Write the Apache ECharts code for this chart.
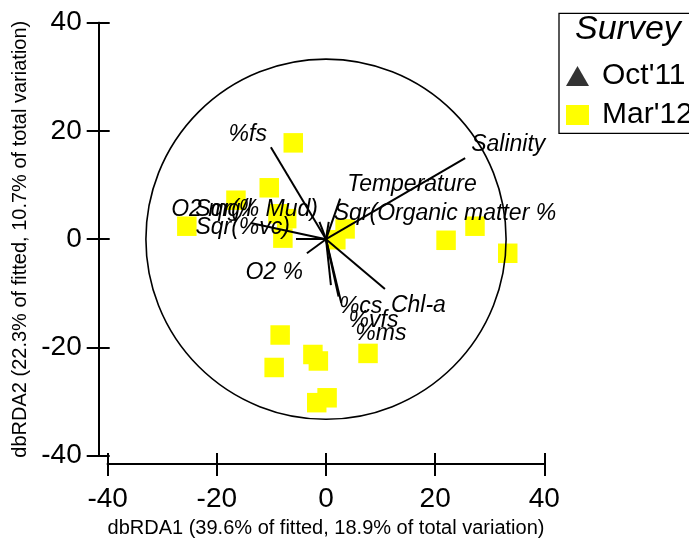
<!DOCTYPE html>
<html>
<head>
<meta charset="utf-8">
<script src="https://cdn.jsdelivr.net/npm/echarts@6/dist/echarts.min.js"></script>
<style>
  html, body { margin: 0; padding: 0; background: #fff; }
  #chart { width: 689px; height: 543px; }
</style>
</head>
<body>
<div id="chart"></div>
<script>
// Sample scores on the first two dbRDA axes, survey Mar'12
const marX = [-6.0, -10.4, -16.5, -25.5, -8.8, -7.2, -7.9, 1.8, 3.5, 22.0, 27.3, 33.3, -8.4, -9.5, -2.4, -1.4, -1.7, 0.2, 7.7];
const marY = [17.8, 9.5, 7.2, 2.4, 4.7, 3.8, 0.2, -0.1, 1.9, -0.2, 2.4, -2.6, -17.7, -23.7, -21.3, -22.5, -30.2, -29.3, -21.1];
// Survey Oct'11 has no samples on this plot
const octX = [];
const octY = [];

// Predictor vectors (end points of the correlation arrows)
const vectorNames = ['%fs', 'Salinity', 'Temperature', 'Sqr(Organic matter %', 'O2 mg/l', 'Sqr(% Mud)',
                     'Sqr(%vc)', 'O2 %', '%cs', 'Chl-a', '%vfs', '%ms'];
const vectorX = [-10.1, 25.5, 2.6, 0.5, -13.8, -1.2, -5.5, -3.5, 0.9, 10.8, 2.3, 2.8];
const vectorY = [17.0, 15.0, 7.5, 3.2, 3.0, 3.2, 0.0, -2.6, -8.5, -9.2, -10.6, -11.8];

// Correlation circle radius
const circleRadius = 33;

// Axis ticks
const tickMin = -40, tickMax = 40, tickStep = 20;

const seriesNames = ["Oct'11", "Mar'12"];
const xTitle = 'dbRDA1 (39.6% of fitted, 18.9% of total variation)';
const yTitle = 'dbRDA2 (22.3% of fitted, 10.7% of total variation)';

// Label placement for each vector name: alignment and pixel offset from the arrow tip
const labelPlacement = {
  '%fs':                  { align: 'right', offset: [-4, -13] },
  'Salinity':             { align: 'left',  offset: [6, -13] },
  'Temperature':          { align: 'left',  offset: [7, -14] },
  'Sqr(Organic matter %': { align: 'left',  offset: [5, -8] },
  'O2 mg/l':              { align: 'right', offset: [1, -13] },
  'Sqr(% Mud)':           { align: 'right', offset: [-1.5, -12] },
  'Sqr(%vc)':             { align: 'right', offset: [-6, -12] },
  'O2 %':                 { align: 'right', offset: [-4, 19] },
  '%cs':                  { align: 'left',  offset: [8, 21] },
  'Chl-a':                { align: 'left',  offset: [6, 17] },
  '%vfs':                 { align: 'left',  offset: [10, 24] },
  '%ms':                  { align: 'left',  offset: [14, 30.5] }
};

const FONT = "'Liberation Sans', Arial, Helvetica, sans-serif";

const chart = echarts.init(document.getElementById('chart'), null, { renderer: 'canvas' });

function zip(xs, ys) { return xs.map((x, i) => [x, ys[i]]); }

const vectorLines = vectorNames.map((n, i) => ({ name: n, coords: [[0, 0], [vectorX[i], vectorY[i]]] }));
const vectorTips = vectorNames.map((n, i) => {
  const p = labelPlacement[n];
  return {
    name: n,
    value: [vectorX[i], vectorY[i]],
    label: {
      show: true,
      position: [0.5 + p.offset[0], 0.5 + p.offset[1]],
      align: p.align,
      verticalAlign: 'middle'
    }
  };
});

const axisCommon = {
  min: tickMin, max: tickMax, interval: tickStep,
  splitLine: { show: false },
  axisLine: { show: true, onZero: false, lineStyle: { color: '#000', width: 2 } }
};

chart.setOption({
  animation: false,
  backgroundColor: '#fff',
  grid: { left: 107.7, right: 144.7, top: 22.7, bottom: 84.3, containLabel: false },
  title: {
    text: 'Survey', left: 575, top: 13, padding: 0,
    textStyle: { fontFamily: FONT, fontStyle: 'italic', fontWeight: 'normal', fontSize: 34, color: '#000' }
  },
  legend: {
    orient: 'vertical', left: 566, top: 61, padding: 0,
    itemWidth: 23, itemHeight: 20, itemGap: 9,
    textStyle: { fontFamily: FONT, fontSize: 30, color: '#000', padding: [0, 0, 0, 8] },
    data: [{ name: seriesNames[0], icon: 'triangle' }, { name: seriesNames[1], icon: 'rect' }]
  },
  graphic: [{
    type: 'rect', z: 100,
    shape: { x: 559, y: 13.3, width: 200, height: 120 },
    style: { fill: 'none', stroke: '#000', lineWidth: 1.3 }
  }],
  xAxis: [
    Object.assign({}, axisCommon, {
      type: 'value', position: 'bottom', offset: 8.3,
      axisTick: { show: true, inside: false, length: 12, lineStyle: { color: '#000', width: 2 } },
      axisLabel: { margin: 21, fontFamily: FONT, fontSize: 28, color: '#000' },
      name: xTitle, nameLocation: 'middle', nameGap: 54,
      nameTextStyle: { fontFamily: FONT, fontSize: 20, color: '#000' }
    }),
    Object.assign({}, axisCommon, {
      type: 'value', position: 'bottom', offset: 8.3,
      axisTick: { show: true, inside: true, length: 11, lineStyle: { color: '#000', width: 2 } },
      axisLabel: { show: false }
    })
  ],
  yAxis: [
    Object.assign({}, axisCommon, {
      type: 'value', position: 'left', offset: 9,
      axisTick: { show: true, inside: false, length: 12, lineStyle: { color: '#000', width: 2 } },
      axisLabel: { margin: 17, fontFamily: FONT, fontSize: 28, color: '#000' },
      name: yTitle, nameLocation: 'middle', nameGap: 63, nameRotate: 90,
      nameTextStyle: { fontFamily: FONT, fontSize: 20, color: '#000' }
    }),
    Object.assign({}, axisCommon, {
      type: 'value', position: 'left', offset: 9,
      axisTick: { show: true, inside: true, length: 11, lineStyle: { color: '#000', width: 2 } },
      axisLabel: { show: false }
    })
  ],
  series: [
    {
      name: seriesNames[0], type: 'scatter', xAxisIndex: 0, yAxisIndex: 0,
      symbol: 'triangle', symbolSize: 20, itemStyle: { color: '#000' },
      data: zip(octX, octY), z: 2
    },
    {
      name: seriesNames[1], type: 'scatter', xAxisIndex: 0, yAxisIndex: 0,
      symbol: 'rect', symbolSize: 19.5, itemStyle: { color: '#ffff00', opacity: 1 },
      data: zip(marX, marY), z: 2
    },
    {
      name: 'circle', type: 'custom', xAxisIndex: 0, yAxisIndex: 0, z: 3, silent: true,
      data: [[0, 0]],
      renderItem: function (params, api) {
        const c = api.coord([api.value(0), api.value(1)]);
        const r = api.size([circleRadius, 0])[0];
        return {
          type: 'circle',
          shape: { cx: c[0], cy: c[1], r: r },
          style: { fill: 'none', stroke: '#000', lineWidth: 1.6 }
        };
      }
    },
    {
      name: 'vectors', type: 'lines', coordinateSystem: 'cartesian2d', xAxisIndex: 0, yAxisIndex: 0, z: 4,
      silent: true,
      lineStyle: { color: '#000', width: 2, opacity: 1, curveness: 0 },
      data: vectorLines
    },
    {
      name: 'vectorLabels', type: 'scatter', xAxisIndex: 0, yAxisIndex: 0, z: 5, silent: true,
      symbol: 'circle', symbolSize: 1, itemStyle: { color: 'rgba(0,0,0,0)' },
      label: {
        show: true, verticalAlign: 'middle', opacity: 1,
        formatter: '{b}', fontFamily: FONT, fontStyle: 'italic', fontSize: 23, color: '#000'
      },
      labelLayout: { hideOverlap: false },
      emphasis: { disabled: true },
      data: vectorTips
    }
  ]
});
</script>
</body>
</html>
